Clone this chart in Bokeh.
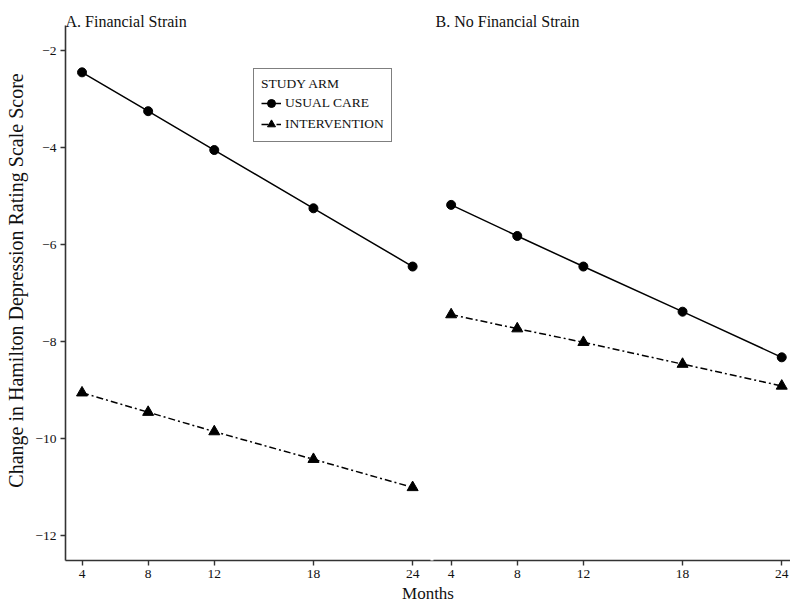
import numpy as np
from bokeh.plotting import figure
from bokeh.models import Range1d, FixedTicker, Label, Legend, LegendItem, BoxAnnotation
from bokeh.embed import file_html
from bokeh.resources import INLINE

# ---- data ----
months = [4, 8, 12, 18, 24]
strain_usual = [-2.45, -3.25, -4.05, -5.25, -6.45]
strain_interv = [-9.05, -9.45, -9.85, -10.42, -11.0]
nostrain_usual = [-5.18, -5.82, -6.45, -7.38, -8.32]
nostrain_interv = [-7.44, -7.73, -8.01, -8.46, -8.91]
y_ticks = [-2, -4, -6, -8, -10, -12]
y_tick_labels = ["\u22122", "\u22124", "\u22126", "\u22128", "\u221210", "\u221212"]
panel_titles = ["A. Financial Strain", "B. No Financial Strain"]
arm_labels = ["USUAL CARE", "INTERVENTION"]
legend_title = "STUDY ARM"
x_label = "Months"
y_label = "Change in Hamilton Depression Rating Scale Score"

# second panel drawn on the same x scale, shifted right
PANEL_SHIFT = 22.33
m_left = np.array(months, dtype=float)
m_right = m_left + PANEL_SHIFT

FONT = "Liberation Serif"
INK = "#111111"

p = figure(frame_width=725, frame_height=560,
           x_range=Range1d(3.0, 46.86), y_range=Range1d(-12.505, -0.97),
           output_backend="svg", toolbar_location=None,
           min_border_left=65, min_border_right=0,
           min_border_top=0, min_border_bottom=44)
p.xgrid.visible = False
p.ygrid.visible = False
p.outline_line_color = None
p.background_fill_color = "white"
p.border_fill_color = "white"

# axes
for ax in (p.xaxis[0], p.yaxis[0]):
    ax.axis_line_width = 1.6
    ax.axis_line_color = "#333333"
    ax.major_tick_line_width = 1.4
    ax.major_tick_line_color = "#333333"
    ax.major_tick_out = 5
    ax.major_tick_in = 0
    ax.minor_tick_out = 0
    ax.minor_tick_in = 0
    ax.major_label_text_font = FONT
    ax.major_label_text_font_size = "13.5px"
    ax.major_label_text_color = INK
    ax.axis_label_text_font = FONT
    ax.axis_label_text_font_style = "normal"
    ax.axis_label_text_color = INK

xticks = list(m_left) + list(m_right)
p.xaxis.ticker = FixedTicker(ticks=xticks)
p.xaxis.major_label_overrides = {float(t): str(mo) for t, mo in zip(xticks, months + months)}
p.xaxis.major_label_standoff = 4
p.xaxis.axis_label = x_label
p.xaxis.axis_label_text_font_size = "17px"
p.xaxis.axis_label_standoff = 3

p.yaxis.ticker = FixedTicker(ticks=y_ticks)
p.yaxis.major_label_overrides = {t: s for t, s in zip(y_ticks, y_tick_labels)}
p.yaxis.major_label_standoff = 4
p.yaxis.axis_label = y_label
p.yaxis.axis_label_text_font_size = "20px"
p.yaxis.axis_label_standoff = 5
p.yaxis.bounds = (-12.505, -1.485)

# small break in the x axis line between the two panels
p.add_layout(BoxAnnotation(left=25.08, right=25.26, bottom=-7, top=2,
                           bottom_units="screen", top_units="screen",
                           fill_color="white", fill_alpha=1.0, line_color=None,
                           level="overlay"))

DASHDOT = "7 3 2 3"
usual_renderers = []
interv_renderers = []
for xs, yu, yi in ((m_left, strain_usual, strain_interv), (m_right, nostrain_usual, nostrain_interv)):
    lu = p.line(xs, yu, line_color="black", line_width=1.5)
    su = p.scatter(xs, yu, marker="circle", size=9, fill_color="black", line_color="black")
    li = p.line(xs, yi, line_color="black", line_width=1.5, line_dash=DASHDOT)
    si = p.scatter(xs, yi, marker="triangle", size=11, fill_color="black", line_color="black")
    usual_renderers += [lu, su]
    interv_renderers += [li, si]

legend = Legend(items=[LegendItem(label=arm_labels[0], renderers=usual_renderers[:2]),
                       LegendItem(label=arm_labels[1], renderers=interv_renderers[:2])],
                location=(188, 418), title=legend_title,
                border_line_color="black", border_line_width=1.6,
                background_fill_color="white", background_fill_alpha=1.0,
                label_text_font=FONT, label_text_font_size="13.5px", label_text_color=INK,
                title_text_font=FONT, title_text_font_size="13.5px",
                title_text_font_style="normal", title_text_color=INK,
                padding=7, spacing=1, margin=0, label_height=20,
                glyph_width=20, glyph_height=20, label_standoff=4, title_standoff=1)
p.add_layout(legend)

# panel titles
for x0, t in zip((0, 370), panel_titles):
    p.add_layout(Label(x=x0, y=539, x_units="screen", y_units="screen", text=t,
                       text_font=FONT, text_font_size="16px", text_color=INK,
                       text_baseline="alphabetic"))

open("out.html", "w").write(file_html(p, INLINE))
